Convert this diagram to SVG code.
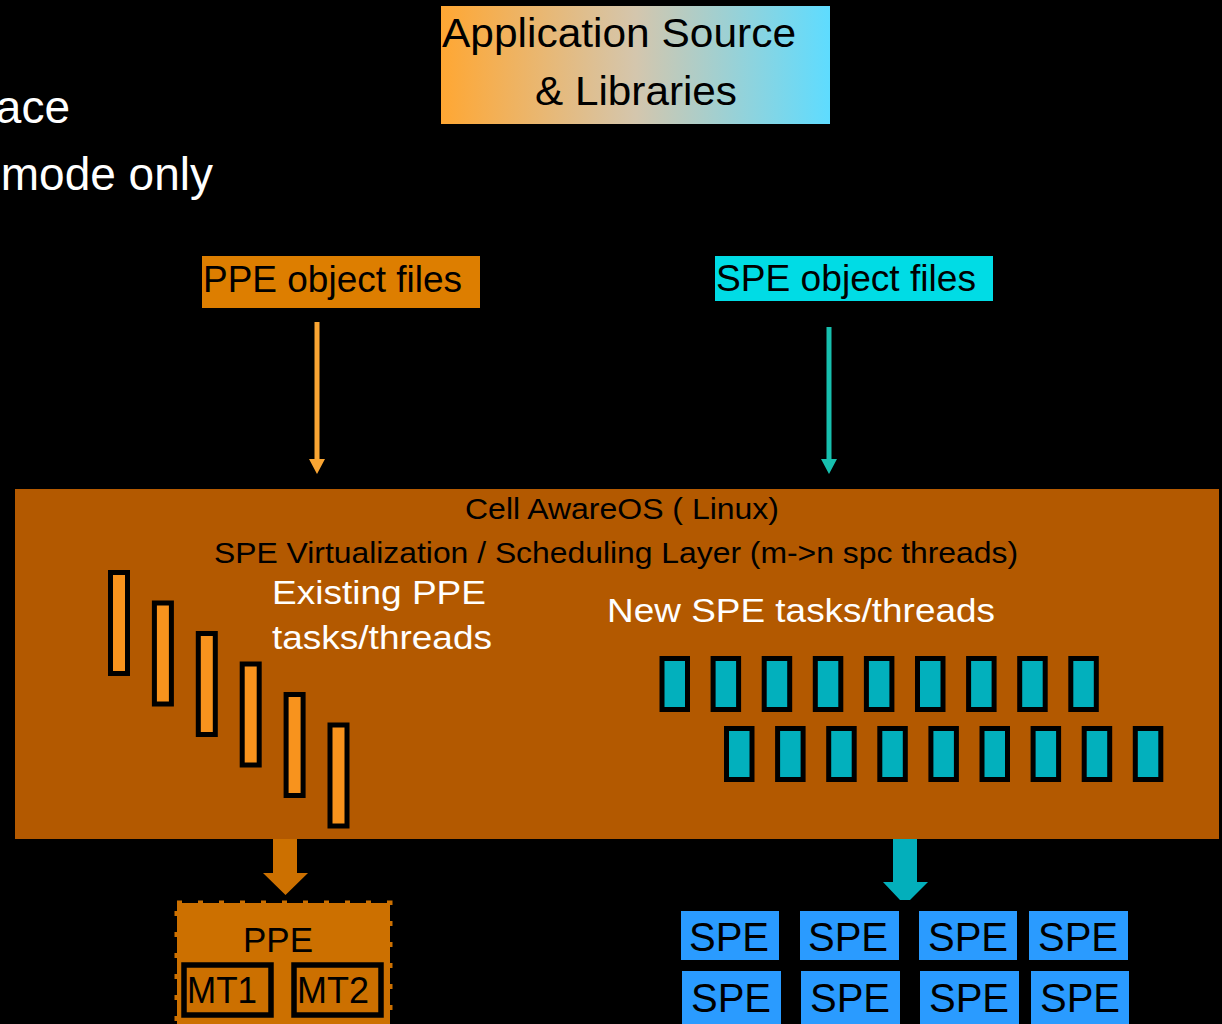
<svg xmlns="http://www.w3.org/2000/svg" width="1222" height="1024" viewBox="0 0 1222 1024">
  <defs>
    <linearGradient id="srcGrad" x1="0" y1="0" x2="1" y2="0">
      <stop offset="0" stop-color="#ffa733"/>
      <stop offset="0.5" stop-color="#d4c6ad"/>
      <stop offset="1" stop-color="#5edcff"/>
    </linearGradient>
    <marker id="headOrange" markerUnits="userSpaceOnUse" markerWidth="15" markerHeight="16" refX="0" refY="8" orient="auto" viewBox="0 0 15 16">
      <path d="M0,0 L15,8 L0,16 Z" fill="#f9a533"/>
    </marker>
    <marker id="headTeal" markerUnits="userSpaceOnUse" markerWidth="15" markerHeight="16" refX="0" refY="8" orient="auto" viewBox="0 0 15 16">
      <path d="M0,0 L15,8 L0,16 Z" fill="#17bfae"/>
    </marker>
    <style>
      text { font-family: "Liberation Sans", Arial, sans-serif; }
      .blk { fill: #000000; }
      .wht { fill: #ffffff; }
      .pbar { fill: #f8931d; stroke: #000000; stroke-width: 5; }
      .sbar { fill: #02b0bd; stroke: #000000; stroke-width: 5; }
      .spe { fill: #2a9bff; }
      .spet { font-size: 40px; fill: #000000; }
      .mt { fill: #cc7000; stroke: #000000; stroke-width: 5.5; }
    </style>
  </defs>

  <rect x="0" y="0" width="1222" height="1024" fill="#000000"/>

  <g id="bg-text">
    <text x="70" y="123" font-size="46" class="wht" text-anchor="end">ace</text>
    <text x="213" y="190" font-size="46" class="wht" text-anchor="end">mode only</text>
  </g>

  <g id="app-source">
    <rect x="441" y="6" width="389" height="118" fill="url(#srcGrad)"/>
    <text x="442" y="47" font-size="40" class="blk" textLength="354" lengthAdjust="spacingAndGlyphs">Application Source</text>
    <text x="535" y="105" font-size="40" class="blk" textLength="202" lengthAdjust="spacingAndGlyphs">&amp; Libraries</text>
  </g>

  <g id="ppe-objects">
    <rect x="202" y="256" width="278" height="52" fill="#dd7e00"/>
    <text x="203" y="292" font-size="36" class="blk" textLength="259" lengthAdjust="spacingAndGlyphs">PPE object files</text>
  </g>

  <g id="spe-objects">
    <rect x="715" y="256" width="278" height="45" fill="#00dce5"/>
    <text x="716" y="291" font-size="36" class="blk" textLength="260" lengthAdjust="spacingAndGlyphs">SPE object files</text>
  </g>

  <g id="cell-os">
    <rect x="15" y="489" width="1204" height="350" fill="#b35900"/>
    <text x="465" y="519" font-size="30" class="blk" textLength="314" lengthAdjust="spacingAndGlyphs">Cell AwareOS ( Linux)</text>
    <text x="214" y="563" font-size="29" class="blk" textLength="804" lengthAdjust="spacingAndGlyphs">SPE Virtualization / Scheduling Layer (m-&gt;n spc threads)</text>
    <text x="272" y="604" font-size="34" class="wht" textLength="214" lengthAdjust="spacingAndGlyphs">Existing PPE</text>
    <text x="272" y="649" font-size="34" class="wht" textLength="220" lengthAdjust="spacingAndGlyphs">tasks/threads</text>
    <text x="607" y="622" font-size="34" class="wht" textLength="388" lengthAdjust="spacingAndGlyphs">New SPE tasks/threads</text>
  </g>

  <g id="ppe-threads">
    <rect class="pbar" x="110.5" y="572.5" width="17" height="101"/>
    <rect class="pbar" x="154.4" y="603" width="17" height="101"/>
    <rect class="pbar" x="198.3" y="633.5" width="17" height="101"/>
    <rect class="pbar" x="242.2" y="664" width="17" height="101"/>
    <rect class="pbar" x="286.1" y="694.5" width="17" height="101"/>
    <rect class="pbar" x="330" y="725" width="17" height="101"/>
  </g>

  <g id="spe-threads">
    <rect class="sbar" x="662" y="658.5" width="25.5" height="51"/>
    <rect class="sbar" x="713.1" y="658.5" width="25.5" height="51"/>
    <rect class="sbar" x="764.2" y="658.5" width="25.5" height="51"/>
    <rect class="sbar" x="815.3" y="658.5" width="25.5" height="51"/>
    <rect class="sbar" x="866.4" y="658.5" width="25.5" height="51"/>
    <rect class="sbar" x="917.5" y="658.5" width="25.5" height="51"/>
    <rect class="sbar" x="968.6" y="658.5" width="25.5" height="51"/>
    <rect class="sbar" x="1019.7" y="658.5" width="25.5" height="51"/>
    <rect class="sbar" x="1070.8" y="658.5" width="25.5" height="51"/>
    <rect class="sbar" x="726.5" y="728.5" width="25.5" height="51"/>
    <rect class="sbar" x="777.6" y="728.5" width="25.5" height="51"/>
    <rect class="sbar" x="828.7" y="728.5" width="25.5" height="51"/>
    <rect class="sbar" x="879.8" y="728.5" width="25.5" height="51"/>
    <rect class="sbar" x="930.9" y="728.5" width="25.5" height="51"/>
    <rect class="sbar" x="982" y="728.5" width="25.5" height="51"/>
    <rect class="sbar" x="1033.1" y="728.5" width="25.5" height="51"/>
    <rect class="sbar" x="1084.2" y="728.5" width="25.5" height="51"/>
    <rect class="sbar" x="1135.3" y="728.5" width="25.5" height="51"/>
  </g>

  <g id="ppe-unit">
    <rect x="177" y="903" width="213" height="140" fill="#cc7000" stroke="#cc7000" stroke-width="5" stroke-dasharray="5 16"/>
    <text x="243" y="952" font-size="35" class="blk">PPE</text>
    <rect class="mt" x="184" y="965" width="87" height="50"/>
    <rect class="mt" x="294" y="965" width="87" height="50"/>
    <text x="187" y="1003" font-size="37" class="blk" textLength="70" lengthAdjust="spacingAndGlyphs">MT1</text>
    <text x="297" y="1003" font-size="37" class="blk" textLength="72" lengthAdjust="spacingAndGlyphs">MT2</text>
  </g>

  <g id="spe-units">
    <rect class="spe" x="681" y="911" width="98" height="49"/>
    <rect class="spe" x="800" y="911" width="99" height="49"/>
    <rect class="spe" x="919" y="911" width="98" height="49"/>
    <rect class="spe" x="1029" y="911" width="99" height="49"/>
    <rect class="spe" x="682" y="971" width="99" height="60"/>
    <rect class="spe" x="801" y="971" width="99" height="60"/>
    <rect class="spe" x="920" y="971" width="99" height="60"/>
    <rect class="spe" x="1031" y="971" width="98" height="60"/>
    <text class="spet" x="689" y="951">SPE</text>
    <text class="spet" x="808" y="951">SPE</text>
    <text class="spet" x="928" y="951">SPE</text>
    <text class="spet" x="1038" y="951">SPE</text>
    <text class="spet" x="691" y="1012">SPE</text>
    <text class="spet" x="810" y="1012">SPE</text>
    <text class="spet" x="929" y="1012">SPE</text>
    <text class="spet" x="1040" y="1012">SPE</text>
  </g>

  <g id="connectors">
    <line x1="317" y1="322" x2="317" y2="459" stroke="#f9a533" stroke-width="5" marker-end="url(#headOrange)"/>
    <line x1="829" y1="327" x2="829" y2="459" stroke="#17bfae" stroke-width="5" marker-end="url(#headTeal)"/>
    <polygon points="273,839 297,839 297,873 308,873 285.5,895 263,873 273,873" fill="#cc7000"/>
    <polygon points="893,839 917,839 917,882 928,882 910,900 900,900 883,882 893,882" fill="#03afbb"/>
  </g>
</svg>
